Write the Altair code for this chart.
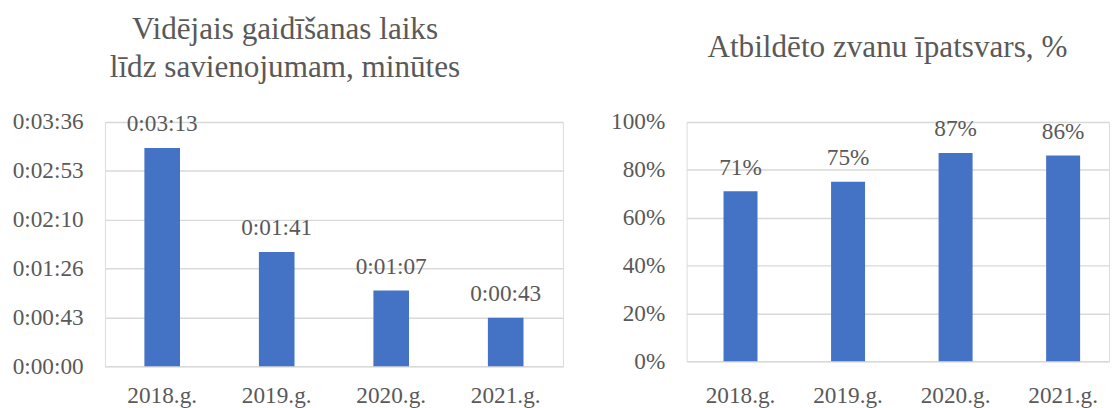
import altair as alt
import pandas as pd

# ---- data ----
years = ["2018.g.", "2019.g.", "2020.g.", "2021.g."]
wait_seconds = [193, 101, 67, 43]          # 0:03:13, 0:01:41, 0:01:07, 0:00:43
answered_pct = [71, 75, 87, 86]
wait_ticks = [0, 43.2, 86.4, 129.6, 172.8, 216]
pct_ticks = [0, 20, 40, 60, 80, 100]
title_left = ["Vidējais gaidīšanas laiks", "līdz savienojumam, minūtes"]
title_right = "Atbildēto zvanu īpatsvars, %"

FONT = ("Liberation Serif, Tinos, Times New Roman, Times, DejaVu Serif, Noto Serif, "
        "FreeSerif, Nimbus Roman, Nimbus Roman No9 L, Noto Serif CJK SC, serif")
GREY = "#595959"
BAR = "#4472C4"
GRID = "#D9D9D9"
LBL = 23.5
TTL = 31.5


def hms(s):
    m, sec = divmod(int(round(s)), 60)
    return f"0:{m:02d}:{sec:02d}"


df1 = pd.DataFrame({"year": years, "sec": wait_seconds,
                    "label": [hms(s) for s in wait_seconds]})
df2 = pd.DataFrame({"year": years, "pct": answered_pct,
                    "label": [f"{p}%" for p in answered_pct]})


def x_axis(pad):
    return alt.Axis(labelAngle=0, labelPadding=pad, labelBaseline="alphabetic",
                    ticks=False, tickSize=0, domain=False, grid=False,
                    labelFontSize=LBL, labelFont=FONT, labelColor=GREY)


def y_axis(values, expr, extent):
    return alt.Axis(values=values, labelExpr=expr, domain=False, ticks=False,
                    tickSize=0, labelPadding=22, minExtent=extent, maxExtent=extent,
                    labelFontSize=LBL, labelFont=FONT, labelColor=GREY,
                    grid=True, gridColor=GRID, gridWidth=1.5)


# ---- left chart ----
x1 = alt.X("year:N", sort=years, title=None,
           scale=alt.Scale(paddingInner=0.689, paddingOuter=0.3445),
           axis=x_axis(37))
y1 = alt.Y("sec:Q", title=None,
           scale=alt.Scale(domain=[0, 216], nice=False, zero=True),
           axis=y_axis(wait_ticks,
                       "'0:' + format(floor(round(datum.value) / 60), '02d') + ':' + "
                       "format(round(datum.value) % 60, '02d')", 97))
base1 = alt.Chart(df1).encode(x=x1, y=y1)
left = alt.layer(
    base1.mark_bar(color=BAR),
    base1.mark_text(dy=-17, baseline="alphabetic", fontSize=LBL, font=FONT,
                    color=GREY).encode(text="label:N"),
).properties(
    width=463, height=247,
    title=alt.TitleParams(title_left, anchor="start", align="center", dx=182,
                          offset=2, baseline="alphabetic", fontSize=TTL, font=FONT,
                          color=GREY, fontWeight="normal", lineHeight=38, frame="group"),
)

# ---- right chart ----
x2 = alt.X("year:N", sort=years, title=None,
           scale=alt.Scale(paddingInner=0.684, paddingOuter=0.306, align=0.561),
           axis=x_axis(42))
y2 = alt.Y("pct:Q", title=None,
           scale=alt.Scale(domain=[0, 100], nice=False, zero=True),
           axis=y_axis(pct_ticks, "datum.value + '%'", 80))
base2 = alt.Chart(df2).encode(x=x2, y=y2)
right = alt.layer(
    base2.mark_bar(color=BAR),
    base2.mark_text(dy=-17, baseline="alphabetic", fontSize=LBL, font=FONT,
                    color=GREY).encode(text="label:N"),
).properties(
    width=427, height=242,
    title=alt.TitleParams(title_right, anchor="start", align="center", dx=203,
                          offset=22, baseline="alphabetic", fontSize=TTL, font=FONT,
                          color=GREY, fontWeight="normal", frame="group"),
)

chart = alt.hconcat(left, right, spacing=43).properties(
    padding={"left": 0, "top": 4, "right": 0, "bottom": 0}
).configure_view(stroke=None).configure(background="white")

chart.save("out.html", embed_options={"renderer": "svg", "actions": False})
